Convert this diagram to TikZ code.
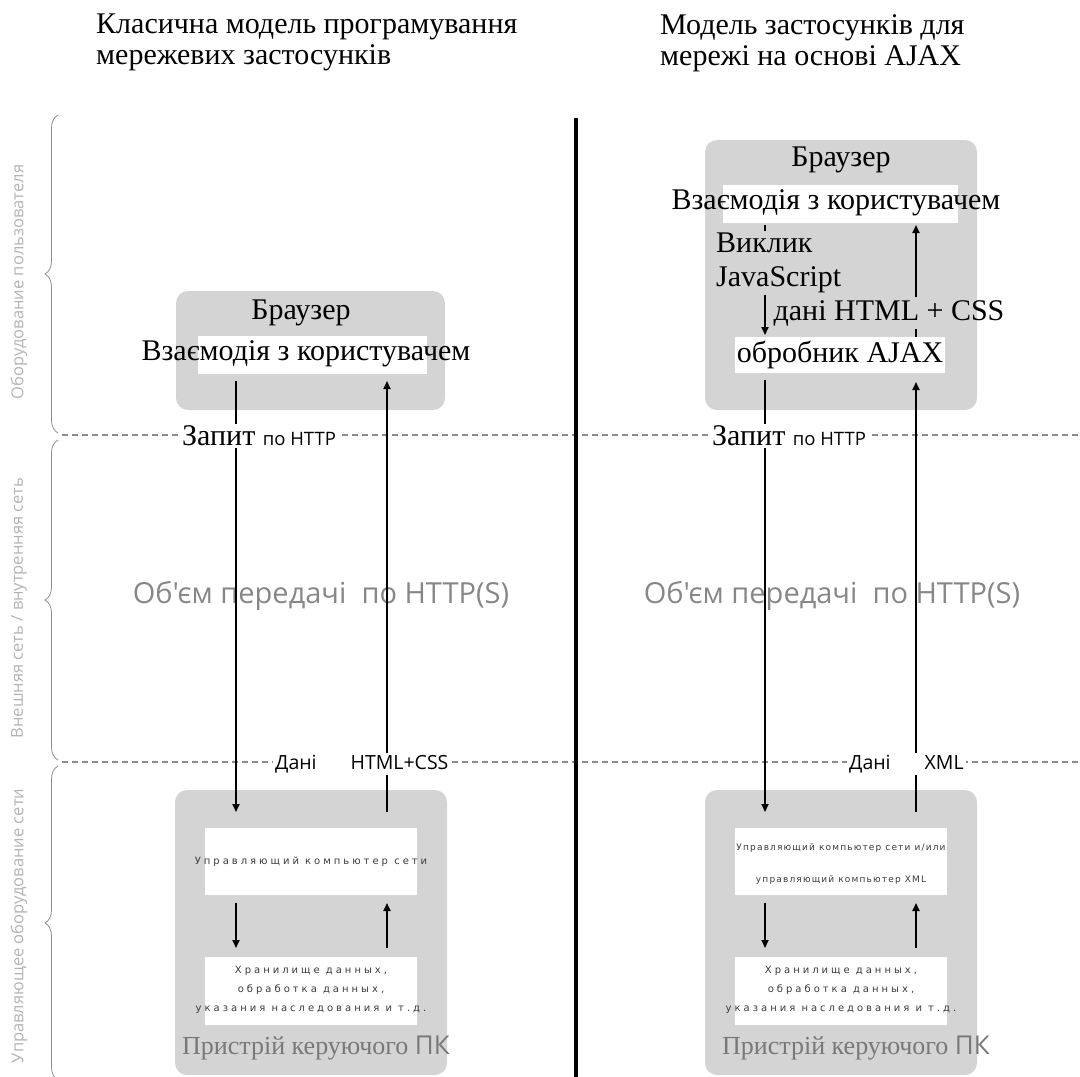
\documentclass[tikz,border=0pt]{standalone}
\usepackage{fontspec}
\setmainfont{Liberation Serif}
\newfontfamily\osans{Open Sans}
\newfontfamily\dsans{DejaVu Sans}
\newfontfamily\wsans[LetterSpace=30]{DejaVu Sans}
\newfontfamily\nsans[LetterSpace=13]{DejaVu Sans}
\usetikzlibrary{arrows.meta,decorations.pathreplacing}
\definecolor{boxgray}{RGB}{212,212,212}
\definecolor{dashgray}{RGB}{140,140,140}
\definecolor{sidegray}{RGB}{180,180,180}
\definecolor{volgray}{RGB}{135,135,135}
\definecolor{devgray}{RGB}{120,120,120}
\definecolor{labgray}{RGB}{60,60,60}
\begin{document}
\begin{tikzpicture}[x=1pt,y=-1pt,
  gbox/.style={fill=boxgray, rounded corners=12pt, inner sep=0pt, draw=none},
  wbox/.style={fill=white, inner sep=0pt, draw=none},
  sertext/.style={font=\fontsize{30}{34}\selectfont, inner sep=1pt},
  titletext/.style={font=\fontsize{30}{31}\selectfont, align=left, anchor=north west, inner sep=0pt},
  arr/.style={line width=1.8pt, -{Triangle[length=8pt,width=7pt]}},
  plain/.style={line width=1.8pt},
  dline/.style={draw=dashgray, line width=1.4pt, dash pattern=on 6pt off 4pt},
  sbrace/.style={draw=dashgray, line width=0.8pt, decorate, decoration={brace, amplitude=13pt}},
  sidelab/.style={rotate=90, text=sidegray, font=\osans\fontsize{16.5}{18}\selectfont},
  netlab/.style={fill=white, inner sep=2pt},
  vol/.style={text=volgray, font=\osans\fontsize{29}{32}\selectfont},
  dev/.style={text=devgray, font=\fontsize{26}{30}\selectfont},
  small/.style={text=labgray, font=\wsans\fontsize{10}{19}\selectfont, align=center}
]
\useasboundingbox (0,0) rectangle (1080,1077);

% titles
\node[titletext] (titleL) at (96,14) {Класична модель програмування\\мережевих застосунків};
\node[titletext] (titleR) at (660,14) {Модель застосунків для\\мережі на основі AJAX};

% dashed separators
\coordinate (d1a) at (62,435); \coordinate (d1b) at (1080,435);
\coordinate (d2a) at (62,762); \coordinate (d2b) at (1080,762);
\draw[dline] (d1a) -- (d1b);
\draw[dline] (d2a) -- (d2b);

% divider
\coordinate (divtop) at (576,118); \coordinate (divbot) at (576,1077);
\draw[line width=4pt] (divtop) -- (divbot);

% side braces
\coordinate (br1a) at (58,433); \coordinate (br1b) at (58,115);
\coordinate (br2a) at (58,760); \coordinate (br2b) at (58,440);
\coordinate (br3a) at (58,1080); \coordinate (br3b) at (58,766);
\draw[sbrace] (br1a) -- (br1b);
\draw[sbrace] (br2a) -- (br2b);
\draw[sbrace] (br3a) -- (br3b);
\node[sidelab] (side1) at (19,282) {Оборудование пользователя};
\node[sidelab] (side2) at (19,608) {Внешняя сеть / внутренняя сеть};
\node[sidelab] (side3) at (19,926) {Управляющее оборудование сети};

% transfer volume labels
\node[vol] (volL) at (321,596) {Об'єм передачі\ \ по HTTP(S)};
\node[vol] (volR) at (832,596) {Об'єм передачі\ \ по HTTP(S)};

% ---------- left: classic ----------
\node[gbox, minimum width=269pt, minimum height=119pt] (bL) at (310.5,350.5) {};
\node[sertext] (bLt) at (301,313) {Браузер};
\node[wbox, minimum width=229pt, minimum height=38pt] (wL) at (312.5,355) {};
\node[sertext] (wLt) at (306,354) {Взаємодія з користувачем};

\node[gbox, minimum width=272pt, minimum height=285pt] (sL) at (311,932.5) {};
\node[wbox, minimum width=212pt, minimum height=67pt] (sL1) at (311,861.5) {};
\node[wbox, minimum width=212pt, minimum height=68pt] (sL2) at (311,991) {};
\node[small] (sL1t) at (311,862) {Управляющий компьютер сети};
\node[small] (sL2t) at (311,990) {Хранилище данных,\\обработка данных,\\указания наследования и т.д.};
\node[dev] (devL) at (316,1048) {Пристрій керуючого {\osans ПК}};

\coordinate (aL1) at (236,381); \coordinate (aL2) at (236,812);
\coordinate (aL3) at (387,812); \coordinate (aL4) at (387,381);
\draw[arr] (aL1) -- (aL2);
\draw[arr] (aL3) -- (aL4);
\coordinate (aL5) at (236,903); \coordinate (aL6) at (236,948);
\coordinate (aL7) at (387,948); \coordinate (aL8) at (387,903);
\draw[arr] (aL5) -- (aL6);
\draw[arr] (aL7) -- (aL8);

\node[netlab, anchor=west] (reqL) at (180,436) {\fontsize{30}{32}\selectfont Запит {\osans\fontsize{18.5}{20}\selectfont по HTTP}};
\node[netlab, anchor=west] (datL) at (273,764) {\osans\fontsize{19.5}{21}\selectfont Дані\hspace{34pt}HTML+CSS};

% ---------- right: AJAX ----------
\node[gbox, minimum width=272pt, minimum height=270pt] (bR) at (841,275) {};
\node[sertext] (bRt) at (841,160) {Браузер};
\node[wbox, minimum width=235pt, minimum height=38pt] (wR1) at (840.5,204) {};
\node[sertext] (wR1t) at (836,203) {Взаємодія з користувачем};
\node[wbox, minimum width=210pt, minimum height=36pt] (wR2) at (840,355) {};
\node[sertext] (wR2t) at (840,355) {обробник AJAX};

\coordinate (aR1) at (765,225); \coordinate (aR2) at (765,335);
\coordinate (aR3) at (916,337); \coordinate (aR4) at (916,225);
\draw[arr] (aR1) -- (aR2);
\node[sertext, fill=boxgray, align=left, anchor=north west, inner sep=2pt] (jsR) at (714,231) {Виклик\\JavaScript};
\node[sertext, inner ysep=3pt, inner xsep=1pt] (hcR) at (889,313) {дані HTML + CSS};
\draw[plain] (aR3) -- (hcR.south -| aR3);
\draw[arr] (hcR.north -| aR3) -- (aR4);

\node[gbox, minimum width=272pt, minimum height=285pt] (sR) at (841,932.5) {};
\node[wbox, minimum width=212pt, minimum height=67pt] (sR1) at (841,861.5) {};
\node[wbox, minimum width=212pt, minimum height=68pt] (sR2) at (841,991) {};
\node[text=labgray, font=\nsans\fontsize{9}{32}\selectfont, align=center] (sR1t) at (841,864) {Управляющий компьютер сети и/или\\управляющий компьютер XML};
\node[small] (sR2t) at (841,990) {Хранилище данных,\\обработка данных,\\указания наследования и т.д.};
\node[dev] (devR) at (856,1048) {Пристрій керуючого {\osans ПК}};

\coordinate (aR5) at (765,380); \coordinate (aR6) at (765,812);
\coordinate (aR7) at (916,812); \coordinate (aR8) at (916,382);
\draw[arr] (aR5) -- (aR6);
\draw[arr] (aR7) -- (aR8);
\coordinate (aR9) at (765,903); \coordinate (aR10) at (765,948);
\coordinate (aR11) at (916,948); \coordinate (aR12) at (916,903);
\draw[arr] (aR9) -- (aR10);
\draw[arr] (aR11) -- (aR12);

\node[netlab, anchor=west] (reqR) at (710,436) {\fontsize{30}{32}\selectfont Запит {\osans\fontsize{18.5}{20}\selectfont по HTTP}};
\node[netlab, anchor=west] (datR) at (847,764) {\osans\fontsize{19.5}{21}\selectfont Дані\hspace{34pt}XML};
\end{tikzpicture}
\end{document}
